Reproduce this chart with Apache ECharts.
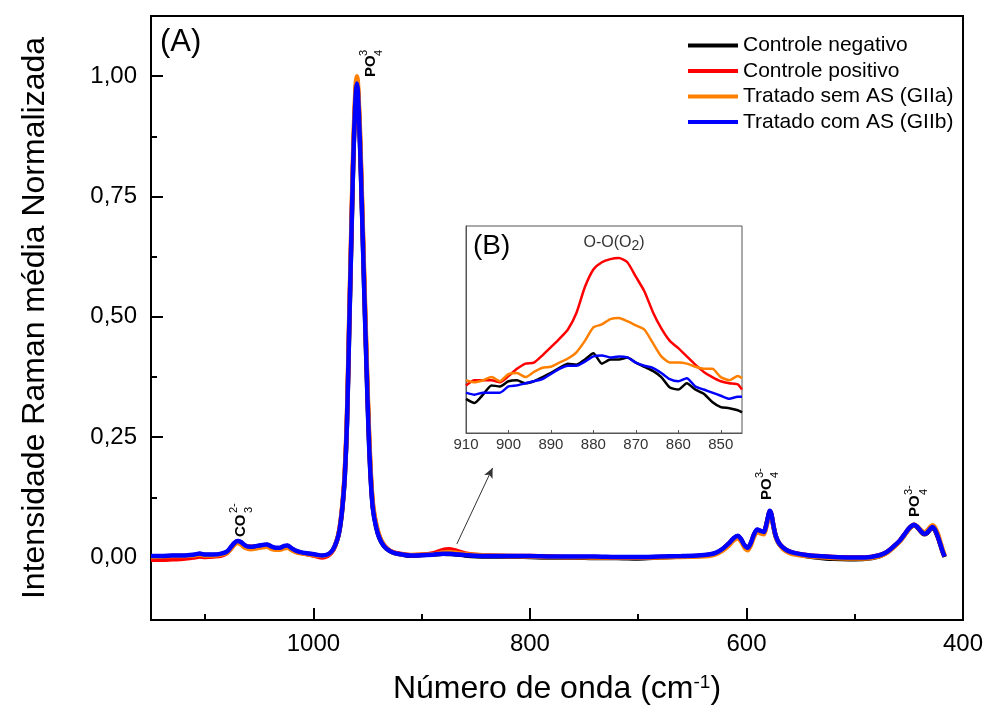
<!DOCTYPE html>
<html><head><meta charset="utf-8">
<script src="https://cdn.jsdelivr.net/npm/echarts@6/dist/echarts.min.js"></script>
<style>html,body{margin:0;padding:0;background:#fff}#c{width:987px;height:716px}</style>
</head><body><div id="c"></div>
<script>
// ---------- main spectrum (A) ----------
const wavenumbers = [1150,1140,1130,1120,1110,1105,1100,1092,1085,1080,1076,1073,1070,1067,1063,1058,1052,1047,1043,1039,1035,1031,1027,1024,1020,1015,1010,1004,998,992,987,983,980,977,975,973,971,969,967,965,963,961,960,959,957,955,953,951,949,947,945,942,939,935,930,925,918,910,900,890,880,875,870,860,850,840,820,800,780,760,740,720,700,680,660,645,635,628,622,616,612,608,605,602,599,596,593,590,587,584,582,580,578.5,577,575,573,570,566,561,555,545,535,520,505,490,478,472,467,462,458,454,450,447,445,442,439,436,433,430,428,426,423,421,419,417];
const controleNegativo = [0.002,0.002,0.003,0.003,0.005,0.007,0.005,0.005,0.007,0.011,0.021,0.029,0.033,0.031,0.024,0.021,0.023,0.025,0.026,0.022,0.019,0.019,0.023,0.024,0.018,0.012,0.009,0.007,0.005,0.003,0.005,0.012,0.024,0.044,0.068,0.108,0.168,0.277,0.465,0.655,0.84,0.962,0.99,0.975,0.865,0.715,0.555,0.405,0.265,0.163,0.102,0.063,0.040,0.024,0.014,0.009,0.006,0.0033,0.0050,0.0058,0.0077,0.0071,0.0068,0.0042,0.0025,0.002,0.002,0.001,0.000,0.000,-0.001,-0.001,-0.002,0.000,0.002,0.003,0.005,0.009,0.017,0.029,0.039,0.044,0.037,0.025,0.019,0.029,0.047,0.057,0.054,0.052,0.064,0.084,0.096,0.089,0.064,0.044,0.029,0.019,0.012,0.008,0.003,0.000,-0.003,-0.004,-0.003,0.002,0.008,0.016,0.026,0.035,0.047,0.059,0.065,0.067,0.062,0.054,0.048,0.051,0.059,0.062,0.057,0.041,0.027,0.013,0.001];
const controlePositivo = [-0.005,-0.005,-0.004,-0.003,0.000,0.002,0.001,0.002,0.004,0.009,0.019,0.028,0.033,0.031,0.024,0.022,0.023,0.025,0.026,0.022,0.019,0.019,0.023,0.024,0.018,0.012,0.009,0.006,0.003,0.000,0.003,0.011,0.024,0.046,0.072,0.113,0.175,0.287,0.48,0.67,0.85,0.968,0.99,0.978,0.875,0.725,0.565,0.415,0.275,0.17,0.107,0.067,0.043,0.026,0.015,0.010,0.007,0.0046,0.0055,0.0083,0.0158,0.0169,0.0151,0.0082,0.0050,0.004,0.003,0.003,0.002,0.001,0.001,0.000,0.000,0.001,0.002,0.003,0.005,0.009,0.017,0.029,0.039,0.044,0.037,0.025,0.019,0.029,0.047,0.057,0.054,0.052,0.064,0.084,0.096,0.089,0.065,0.045,0.030,0.020,0.013,0.009,0.005,0.003,0.001,0.000,0.000,0.004,0.009,0.017,0.027,0.036,0.048,0.060,0.066,0.068,0.063,0.055,0.049,0.052,0.060,0.063,0.058,0.042,0.028,0.014,0.002];
const tratadoSemAS = [0.001,0.002,0.003,0.003,0.004,0.006,0.004,0.004,0.006,0.009,0.018,0.026,0.030,0.027,0.020,0.017,0.019,0.021,0.022,0.018,0.016,0.016,0.019,0.020,0.015,0.010,0.008,0.006,0.004,0.003,0.005,0.012,0.025,0.047,0.074,0.116,0.18,0.295,0.49,0.685,0.865,0.98,1.0,0.99,0.89,0.74,0.58,0.43,0.285,0.178,0.112,0.07,0.045,0.026,0.015,0.009,0.006,0.0051,0.0057,0.0064,0.0102,0.0111,0.0104,0.0068,0.0054,0.004,0.003,0.002,0.001,0.001,0.000,0.000,0.000,0.000,0.001,0.002,0.003,0.007,0.014,0.025,0.035,0.040,0.033,0.021,0.015,0.025,0.043,0.053,0.050,0.048,0.060,0.080,0.093,0.087,0.063,0.043,0.028,0.017,0.010,0.006,0.003,0.001,-0.001,-0.002,-0.002,0.002,0.007,0.015,0.025,0.034,0.046,0.058,0.065,0.068,0.064,0.057,0.052,0.056,0.064,0.067,0.063,0.048,0.033,0.018,0.004];
const tratadoComAS = [0.003,0.003,0.004,0.004,0.006,0.008,0.006,0.006,0.008,0.012,0.022,0.030,0.034,0.032,0.025,0.022,0.024,0.026,0.027,0.023,0.020,0.020,0.024,0.025,0.019,0.013,0.010,0.008,0.006,0.004,0.006,0.013,0.025,0.045,0.070,0.11,0.17,0.28,0.47,0.66,0.84,0.96,0.985,0.97,0.86,0.71,0.55,0.40,0.26,0.16,0.10,0.062,0.040,0.024,0.014,0.009,0.006,0.0039,0.0045,0.0057,0.0074,0.0074,0.0068,0.0050,0.0036,0.003,0.003,0.003,0.002,0.002,0.002,0.001,0.001,0.002,0.003,0.004,0.006,0.010,0.018,0.030,0.040,0.045,0.038,0.026,0.020,0.030,0.048,0.058,0.055,0.053,0.065,0.085,0.097,0.090,0.065,0.045,0.030,0.020,0.013,0.009,0.005,0.003,0.001,0.000,0.000,0.004,0.009,0.017,0.027,0.036,0.048,0.060,0.066,0.068,0.063,0.055,0.049,0.052,0.060,0.063,0.058,0.042,0.028,0.014,0.002];

// ---------- inset (B), intensity x 10^-3 ----------
const insetWavenumbers = [910,908,906,904,902,900,898,896,894,892,890,888,886,884,882,880,878,876,874,872,870,868,866,864,862,860,858,856,854,852,850,848,846,845];
const insetNegativo = [3.3,2.9,3.7,4.6,4.5,5.0,5.1,4.8,5.0,5.4,5.8,6.3,6.7,6.6,7.1,7.7,6.7,7.1,7.1,7.3,6.8,6.4,6.0,5.4,4.4,4.2,4.8,4.2,3.8,3.0,2.5,2.4,2.2,2.0];
const insetPositivo = [4.6,5.1,5.1,5.1,4.9,5.5,6.2,6.7,6.8,7.5,8.3,9.1,10.0,11.6,14.1,15.8,16.5,16.8,16.9,16.5,15.1,13.7,11.7,10.1,8.9,8.2,7.4,6.6,5.9,5.4,5.0,4.8,4.7,4.2];
const insetSemAS = [5.1,4.9,5.1,5.4,5.0,5.7,5.8,5.4,5.9,6.3,6.4,6.8,7.2,7.8,8.9,10.2,10.5,11.0,11.1,10.8,10.4,10.0,8.7,7.4,6.8,6.8,6.7,6.4,6.2,6.2,5.4,5.1,5.5,5.3];
const insetComAS = [3.9,3.7,3.9,3.9,3.9,4.5,4.6,4.8,5.0,5.2,5.7,6.2,6.5,6.5,6.9,7.4,7.5,7.3,7.4,7.3,6.8,6.5,6.3,5.8,5.2,5.0,5.3,4.5,4.2,3.9,3.6,3.3,3.5,3.5];

// ---------- tick labels / names ----------
const xMajorTicks = [1000,800,600,400];
const xMinorTicks = [1100,900,700,500];
const yMajorTicks = [0,0.25,0.5,0.75,1.0];
const yMinorTicks = [0.125,0.375,0.625,0.875];
const insetTicks = [910,900,890,880,870,860,850];
const seriesNames = ['Controle negativo','Controle positivo','Tratado sem AS (GIIa)','Tratado com AS (GIIb)'];
const seriesColors = ['#000000','#ff0000','#ff8000','#0000ff'];

const FF = '"Liberation Sans", Arial, sans-serif';
const mainData = [controleNegativo, controlePositivo, tratadoSemAS, tratadoComAS];
const insetData = [insetNegativo, insetPositivo, insetSemAS, insetComAS];

const series = [];
mainData.forEach((vals, k) => {
  series.push({
    name: seriesNames[k], type: 'line', xAxisIndex: 0, yAxisIndex: 0,
    data: wavenumbers.map((w, i) => [w, vals[i]]),
    showSymbol: false, smooth: 0.3, z: 3 + k,
    lineStyle: { color: seriesColors[k], width: 4.5 }, itemStyle: { color: seriesColors[k] },
    emphasis: { disabled: true }, silent: true
  });
});
insetData.forEach((vals, k) => {
  series.push({
    name: 'B ' + seriesNames[k], type: 'line', xAxisIndex: 2, yAxisIndex: 2,
    data: insetWavenumbers.map((w, i) => [w, vals[i]]),
    showSymbol: false, smooth: 0.2, z: 3 + k,
    lineStyle: { color: seriesColors[k], width: 2.5 }, itemStyle: { color: seriesColors[k] },
    emphasis: { disabled: true }, silent: true
  });
});
// arrow pointing from the 875 band to the inset
series.push({
  type: 'line', xAxisIndex: 0, yAxisIndex: 0, data: [], silent: true,
  markLine: {
    silent: true, symbol: ['none', 'arrow'], symbolSize: [7, 10], animation: false,
    label: { show: false }, emphasis: { disabled: true },
    lineStyle: { color: '#333', width: 1, type: 'solid' },
    data: [[{ coord: [867.5, 0.028] }, { coord: [834.5, 0.186] }]]
  }
});

function chemLabel(x, y, base, sub, sup, w, subOff, supOff) {
  return {
    type: 'group', x: x, y: y, rotation: Math.PI / 2, silent: true,
    children: [
      { type: 'text', x: 0, y: 0, style: { text: base, font: 'bold 15px ' + FF, fill: '#000', align: 'left', verticalAlign: 'middle' } },
      { type: 'text', x: w, y: subOff, style: { text: sub, font: '11px ' + FF, fill: '#000', align: 'left', verticalAlign: 'middle' } },
      { type: 'text', x: w, y: supOff, style: { text: sup, font: '11px ' + FF, fill: '#000', align: 'left', verticalAlign: 'middle' } }
    ]
  };
}

const option = {
  animation: false,
  backgroundColor: '#fff',
  grid: [
    { left: 151, top: 16, right: 24, bottom: 96, show: true, borderColor: '#000', borderWidth: 2, backgroundColor: 'transparent' },
    { left: 466, top: 226, width: 276, height: 207, show: true, borderColor: '#555', borderWidth: 1, backgroundColor: '#fff' }
  ],
  legend: {
    orient: 'vertical', left: 688, top: 35, padding: 0, itemWidth: 50, itemHeight: 4, itemGap: 4.5,
    icon: 'rect', selectedMode: false, data: seriesNames,
    textStyle: { fontSize: 21, color: '#000', fontFamily: FF }
  },
  xAxis: [
    { gridIndex: 0, type: 'value', position: 'bottom', min: 400, max: 1150, inverse: true,
      axisLine: { onZero: false, lineStyle: { color: '#000', width: 2 } },
      axisTick: { inside: true, length: 12, customValues: xMajorTicks, lineStyle: { color: '#000', width: 2 } },
      axisLabel: { customValues: xMajorTicks, fontSize: 24, color: '#000', fontFamily: FF, margin: 12,
        formatter: v => String(v) },
      splitLine: { show: false },
      name: 'Número de onda (cm{sup|-1})', nameLocation: 'middle', nameGap: 53,
      nameTextStyle: { fontSize: 32, color: '#000', fontFamily: FF,
        rich: { sup: { fontSize: 19, color: '#000', fontFamily: FF, verticalAlign: 'top' } } } },
    { gridIndex: 0, type: 'value', position: 'bottom', min: 400, max: 1150, inverse: true,
      axisLine: { show: false, onZero: false },
      axisTick: { inside: true, length: 6, customValues: xMinorTicks, lineStyle: { color: '#000', width: 2 } },
      axisLabel: { show: false }, splitLine: { show: false } },
    { gridIndex: 1, type: 'value', position: 'bottom', min: 845, max: 910, inverse: true,
      axisLine: { onZero: false, lineStyle: { color: '#555', width: 1 } },
      axisTick: { inside: true, length: 3, customValues: insetTicks, lineStyle: { color: '#555', width: 1 } },
      axisLabel: { customValues: insetTicks, fontSize: 15, color: '#333', fontFamily: FF, margin: 4,
        formatter: v => String(v) },
      splitLine: { show: false } }
  ],
  yAxis: [
    { gridIndex: 0, type: 'value', position: 'left', min: -0.13, max: 1.125,
      axisLine: { onZero: false, lineStyle: { color: '#000', width: 2 } },
      axisTick: { inside: true, length: 12, customValues: yMajorTicks, lineStyle: { color: '#000', width: 2 } },
      axisLabel: { customValues: yMajorTicks, fontSize: 24, color: '#000', fontFamily: FF, margin: 14,
        formatter: v => v.toFixed(2).replace('.', ',') },
      splitLine: { show: false },
      name: 'Intensidade Raman média Normalizada', nameLocation: 'middle', nameGap: 100,
      nameTextStyle: { fontSize: 32, color: '#000', fontFamily: FF } },
    { gridIndex: 0, type: 'value', position: 'left', min: -0.13, max: 1.125,
      axisLine: { show: false, onZero: false },
      axisTick: { inside: true, length: 6, customValues: yMinorTicks, lineStyle: { color: '#000', width: 2 } },
      axisLabel: { show: false }, splitLine: { show: false } },
    { gridIndex: 1, type: 'value', position: 'left', min: 0, max: 20,
      axisLine: { show: true, onZero: false, lineStyle: { color: '#555', width: 1 } },
      axisTick: { show: false }, axisLabel: { show: false }, splitLine: { show: false } }
  ],
  graphic: [
    { type: 'text', x: 160, y: 27, silent: true, style: { text: '(A)', font: '31px ' + FF, fill: '#000' } },
    { type: 'text', x: 473, y: 232, silent: true, style: { text: '(B)', font: '28px ' + FF, fill: '#000' } },
    { type: 'text', x: 614, y: 243, silent: true, style: {
        text: 'O-O(O{s|2})', font: '16px ' + FF, fill: '#333', align: 'center', verticalAlign: 'middle',
        rich: { s: { fontSize: 14, fontFamily: FF, fill: '#333', padding: [7, 0, 0, 0] } } } },
    chemLabel(371, 77, 'PO', '4', '3', 21, 8, -7),
    chemLabel(767, 500, 'PO', '4', '3-', 22, 8, -7),
    chemLabel(915, 517, 'PO', '4', '3-', 22, 9, -6),
    chemLabel(241, 537, 'CO', '3', '2-', 24, 8, -7)
  ],
  series: series
};

const chart = echarts.init(document.getElementById('c'));
chart.setOption(option);
</script>
</body></html>
